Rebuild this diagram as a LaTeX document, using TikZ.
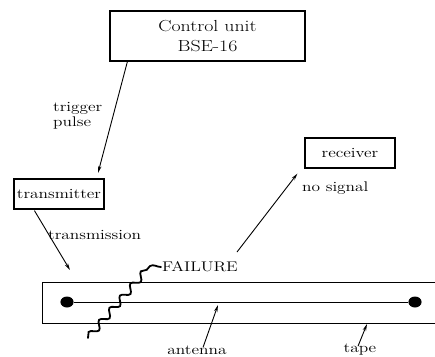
\documentclass[tikz,border=0pt]{standalone}
\usepackage{graphicx}
\usepackage{tikz}
\usetikzlibrary{arrows.meta,decorations.pathmorphing}

\newcommand{\wtext}[1]{\scalebox{1.24}[1]{#1}}

\tikzset{
  unitbox/.style={draw, line width=1.2pt, inner sep=0pt},
  lbl/.style={inner sep=0pt, font=\fontsize{14}{15}\selectfont},
  sigarrow/.style={line width=0.9pt, -{Stealth[length=7pt,width=3.5pt]}}
}

\begin{document}
\begin{tikzpicture}[x=1pt, y=-1pt]
           \useasboundingbox (0, 0) rectangle (435, 356);

           % Boksene
           \node[unitbox, minimum width=195pt, minimum height=50pt, align=center,
                 font=\fontsize{16}{20}\selectfont] (ctrl) at (207.5, 36)
                 {\wtext{Control unit}\\\wtext{BSE-16}};
           \node[unitbox, minimum width=90pt, minimum height=30pt,
                 font=\fontsize{14}{15}\selectfont] (tx) at (59, 194) {\wtext{transmitter}};
           \node[unitbox, minimum width=90pt, minimum height=30pt,
                 font=\fontsize{14}{15}\selectfont] (rx) at (350, 153) {\wtext{receiver}};

           % Trigger puls
           \coordinate (trigEnd) at (98, 173);
           \draw[sigarrow] ([xshift=18pt]ctrl.south west) -- (trigEnd);
           \node[lbl, anchor=west, align=left] (trig) at (53, 116)
                 {\wtext{trigger}\\\wtext{pulse}};

           % Sending
           \coordinate (txEnd) at (70, 270);
           \draw[sigarrow] ([xshift=21pt,yshift=-1pt]tx.south west) -- (txEnd);
           \node[lbl, anchor=west] (trans) at (48, 235) {\wtext{transmission}};

           % Baandet
           \draw[line width=1pt] (435, 282) -- (42, 282) -- (42, 323) -- (435, 323);
           \node[circle, fill, minimum width=11pt, minimum height=9pt, inner sep=0pt,
                 xscale=1.2] (dotL) at (67, 302) {};
           \node[circle, fill, minimum width=11pt, minimum height=9pt, inner sep=0pt,
                 xscale=1.2] (dotR) at (415, 302) {};
           \draw[line width=1pt] (dotL) -- (dotR);

           % Brudd
           \node[lbl, anchor=west] (fail) at (162, 267) {\wtext{FAILURE}};
           \coordinate (brA) at (88, 338);
           \coordinate (brB) at (150, 266);
           \draw[line width=1.8pt, line cap=round, decorate,
                 decoration={snake, amplitude=3.5pt, segment length=16pt}] (brA) -- (brB);
           \draw[line width=1.8pt, line cap=round] (brB) to[out=30, in=180] ([xshift=-1pt]fail.west);

           % Ingen signal
           \coordinate (noA) at (237, 252);
           \draw[sigarrow] (noA) -- ([xshift=-7pt,yshift=-5pt]rx.south west);
           \node[lbl, anchor=west] (nosig) at (302, 188) {\wtext{no signal}};

           % Antenne og baand
           \node[lbl] (ant) at (197, 350) {\wtext{antenna}};
           \node[lbl] (tape) at (360, 350) {\wtext{tape}};
           \coordinate (antTip) at (218, 305);
           \coordinate (tapeTip) at (367, 324);
           \draw[sigarrow] ([xshift=6pt,yshift=-2pt]ant.north) -- (antTip);
           \draw[sigarrow] ([xshift=-2pt,yshift=-2pt]tape.north) -- (tapeTip);

         \end{tikzpicture}
\end{document}
